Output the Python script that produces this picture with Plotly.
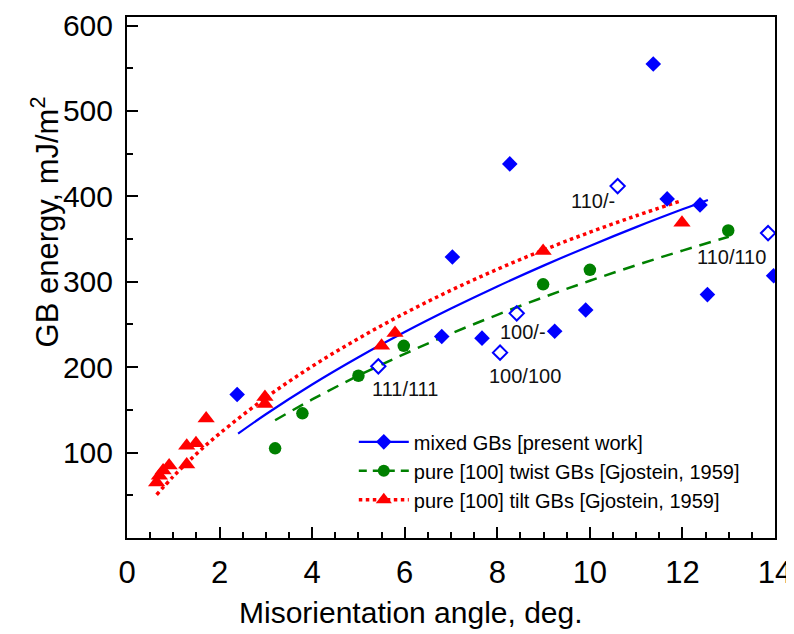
import plotly.graph_objects as go

# mixed GBs [present work] - filled diamonds
mixed_x = [2.38, 6.8, 7.03, 7.67, 8.27, 9.24, 9.91, 11.37, 11.67, 12.38, 12.54, 13.97]
mixed_y = [168, 236, 329, 234, 438, 242, 267, 555, 397, 390, 285, 307]

# mixed GBs, open diamonds (special ones, labelled)
open_x = [5.43, 8.06, 8.42, 10.6, 13.85]
open_y = [201, 217, 263, 412, 357]
open_labels = ["111/111", "100/100", "100/-", "110/-", "110/110"]

# pure [100] twist GBs [Gjostein, 1959]
twist_x = [3.2, 3.79, 5.0, 5.98, 8.99, 10.0, 12.99]
twist_y = [105, 146, 190, 225, 297, 314, 360]

# pure [100] tilt GBs [Gjostein, 1959]
tilt_x = [0.64, 0.70, 0.78, 0.91, 1.29, 1.29, 1.49, 1.71, 2.98, 2.98, 5.5, 5.79, 8.99, 11.99]
tilt_y = [65, 73, 79, 85, 86, 108, 111, 140, 165, 157, 225, 240, 336, 369]

# fitted curves
fit_mixed_x = [2.4, 3, 4, 5, 6, 7, 8, 9, 10, 11, 12, 12.55]
fit_mixed_y = [122.2, 144.9, 179.7, 211.6, 241.1, 268.6, 294.5, 318.9, 342.0, 364.0, 384.8, 395.8]
fit_twist_x = [3.2, 4, 5, 6, 7, 8, 9, 10, 11, 12, 13]
fit_twist_y = [137.9, 162.2, 190.1, 215.6, 239.3, 261.3, 281.9, 301.2, 319.4, 336.5, 352.7]
fit_tilt_x = [0.64, 1, 1.5, 2, 3, 4, 5, 6, 7, 8, 9, 10, 11, 11.92]
fit_tilt_y = [50.6, 72.1, 98.5, 122.3, 164.3, 201.0, 233.6, 263.1, 290.0, 314.6, 337.2, 358.0, 377.3, 393.9]

# label positions (data coordinates)
label_x = [6.0, 8.6, 8.55, 10.06, 13.05]
label_y = [174, 190, 241, 394, 329]

x_ticks = [0, 2, 4, 6, 8, 10, 12, 14]
y_ticks = [100, 200, 300, 400, 500, 600]

BLUE = "#0000ff"
GREEN = "#008000"
RED = "#ff0000"

fig = go.Figure()

fig.add_trace(go.Scatter(x=fit_mixed_x, y=fit_mixed_y, mode="lines", line=dict(color=BLUE, width=2.2, shape="spline"), showlegend=False))
fig.add_trace(go.Scatter(x=fit_twist_x, y=fit_twist_y, mode="lines", line=dict(color=GREEN, width=2.5, dash="12px,8px", shape="spline"), showlegend=False))
fig.add_trace(go.Scatter(x=fit_tilt_x, y=fit_tilt_y, mode="lines", line=dict(color=RED, width=3.5, dash="dot", shape="spline"), showlegend=False))

fig.add_trace(go.Scatter(x=mixed_x, y=mixed_y, mode="markers", marker=dict(symbol="diamond", size=12, color=BLUE), showlegend=False))
fig.add_trace(go.Scatter(x=open_x, y=open_y, mode="markers", marker=dict(symbol="diamond-open", size=11, color=BLUE, line=dict(width=2, color=BLUE)), showlegend=False))
fig.add_trace(go.Scatter(x=twist_x, y=twist_y, mode="markers", marker=dict(symbol="circle", size=12.5, color=GREEN), showlegend=False))
fig.add_trace(go.Scatter(x=tilt_x, y=tilt_y, mode="markers", marker=dict(symbol="triangle-up", size=15, color=RED), showlegend=False))

# legend entries
fig.add_trace(go.Scatter(x=[None], y=[None], mode="lines+markers", name="mixed GBs [present work]",
                         line=dict(color=BLUE, width=2.2), marker=dict(symbol="diamond", size=12, color=BLUE)))
fig.add_trace(go.Scatter(x=[None], y=[None], mode="lines+markers", name="pure [100] twist GBs [Gjostein, 1959]",
                         line=dict(color=GREEN, width=2.5, dash="8px,6px"), marker=dict(symbol="circle", size=12, color=GREEN)))
fig.add_trace(go.Scatter(x=[None], y=[None], mode="lines+markers", name="pure [100] tilt GBs [Gjostein, 1959]",
                         line=dict(color=RED, width=3.5, dash="dot"), marker=dict(symbol="triangle-up", size=14, color=RED)))

for lx, ly, t in zip(label_x, label_y, open_labels):
    fig.add_annotation(x=lx, y=ly, text=t, showarrow=False, font=dict(size=20, color="#111111", family="Arial"))

# axis titles as annotations (offset as in the reference)
fig.add_annotation(xref="paper", yref="paper", x=0.438, y=-0.143, text="Misorientation angle, deg.",
                   showarrow=False, font=dict(size=30, color="black", family="Arial"), xanchor="center", yanchor="middle")
fig.add_annotation(xref="paper", yref="paper", x=-0.127, y=0.607, text="GB energy, mJ/m<sup>2</sup>", textangle=-90,
                   showarrow=False, font=dict(size=31, color="black", family="Arial"), xanchor="center", yanchor="middle")

axis_common = dict(showline=True, linecolor="black", linewidth=2, mirror=True, ticks="inside",
                   tickcolor="black", tickwidth=2, ticklen=11, showgrid=False, zeroline=False, automargin=False,
                   ticklabeloverflow="allow")

fig.update_xaxes(range=[0, 14], tickvals=x_ticks, ticktext=[str(v) for v in x_ticks],
                 minor=dict(dtick=0.5, ticks="inside", ticklen=6, tickwidth=2, tickcolor="black"),
                 ticklabelstandoff=6, tickfont=dict(size=31, color="black", family="Arial"),
                 **axis_common)
fig.update_yaxes(range=[0, 610], tickvals=y_ticks, ticktext=[str(v) for v in y_ticks],
                 minor=dict(dtick=50, tick0=0, ticks="inside", ticklen=6, tickwidth=2, tickcolor="black"),
                 ticklabelstandoff=6, tickfont=dict(size=30, color="black", family="Arial"),
                 **axis_common)

# page body has an 8px margin: size and margins compensate for it
fig.update_layout(
    width=786, height=626,
    margin=dict(l=119, r=19, t=9, b=96),
    plot_bgcolor="white", paper_bgcolor="white",
    font=dict(family="Arial", color="black"),
    legend=dict(x=0.35, y=0.222, xanchor="left", yanchor="top", bgcolor="rgba(0,0,0,0)",
                font=dict(size=20, color="black", family="Arial"), tracegroupgap=0, itemwidth=50),
)

fig.write_html("out.html")
